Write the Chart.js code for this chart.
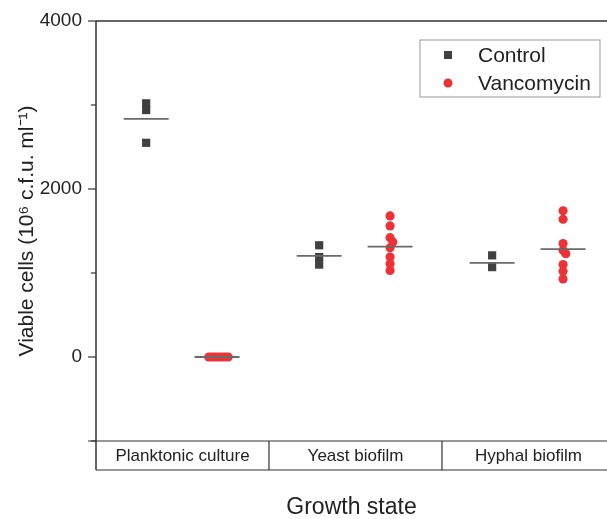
<!DOCTYPE html>
<html>
<head>
<meta charset="utf-8">
<script src="https://cdn.jsdelivr.net/npm/chart.js@4"></script>
<style>
  html, body { margin: 0; padding: 0; background: #fff; overflow: hidden; }
  #wrap { width: 607px; height: 519px; }
</style>
</head>
<body>
<div id="wrap"><canvas id="chart" width="607" height="519"></canvas></div>
<script>
// categories and read-off values (10^6 c.f.u./ml)
const groups = ['Planktonic culture', 'Yeast biofilm', 'Hyphal biofilm'];
const controlVals = [
  [3020, 2940, 2550],
  [1330, 1190, 1100],
  [1210, 1070]
];
const vancVals = [
  [0, 0, 0, 0, 0, 0, 0, 0],
  [1680, 1560, 1420, 1370, 1300, 1190, 1110, 1030],
  [1740, 1640, 1350, 1270, 1230, 1100, 1020, 930]
];
const controlMeans = [2835, 1205, 1120];
const vancMeans = [0, 1315, 1285];
const yTicks = [-1000, 0, 1000, 2000, 3000, 4000];

const FONT = "'Liberation Sans', Arial, sans-serif";
const DARK = '#404040';
const RED = '#ec3237';

// simple beeswarm dodge so close values sit side by side
function swarm(vals, centre) {
  const placed = [];
  return vals.map(v => {
    const near = placed.filter(p => Math.abs(p - v) < 70).length;
    placed.push(v);
    const k = Math.ceil(near / 2);
    const sign = near % 2 ? 1 : -1;
    return {x: centre + sign * k * 0.016, y: v};
  });
}

const ctrlPts = [], vancPts = [];
groups.forEach((g, i) => {
  ctrlPts.push(...swarm(controlVals[i], i + 1 - 0.21));
  vancPts.push(...swarm(vancVals[i], i + 1 + 0.2));
});

const meanSets = [];
groups.forEach((g, i) => {
  [[i + 1 - 0.21, controlMeans[i]], [i + 1 + 0.2, vancMeans[i]]].forEach(([c, m]) => {
    meanSets.push({
      type: 'scatter',
      data: [{x: c - 0.13, y: m}, {x: c + 0.13, y: m}],
      showLine: true,
      borderColor: '#6a6a6a',
      borderWidth: 1.8,
      pointRadius: 0,
      order: 0
    });
  });
});

const decor = {
  id: 'decor',
  afterDraw: (chart) => {
    const {ctx, chartArea: a, scales: {x, y}} = chart;
    ctx.save();
    ctx.strokeStyle = '#333';
    ctx.lineWidth = 1.5;
    // top frame + left axis
    ctx.beginPath();
    ctx.moveTo(a.left, a.top); ctx.lineTo(a.right, a.top);
    ctx.moveTo(a.left, a.top); ctx.lineTo(a.left, a.bottom + 29);
    ctx.stroke();
    // y ticks
    ctx.lineWidth = 1.2;
    y.ticks.forEach(t => {
      const py = y.getPixelForValue(t.value);
      const len = t.value % 2000 === 0 ? 8 : 5;
      ctx.beginPath(); ctx.moveTo(a.left - len, py); ctx.lineTo(a.left, py); ctx.stroke();
    });
    // category box
    const bTop = a.bottom, bBot = a.bottom + 29;
    ctx.beginPath();
    ctx.moveTo(a.left - 8, bTop); ctx.lineTo(a.right, bTop);
    ctx.moveTo(a.left, bBot); ctx.lineTo(a.right, bBot);
    [1.5, 2.5].forEach(v => {
      const px = x.getPixelForValue(v);
      ctx.moveTo(px, bTop); ctx.lineTo(px, bBot);
    });
    ctx.stroke();
    ctx.fillStyle = '#222';
    ctx.font = '17px ' + FONT;
    ctx.textAlign = 'center';
    ctx.textBaseline = 'middle';
    groups.forEach((g, i) => ctx.fillText(g, x.getPixelForValue(i + 1), (bTop + bBot) / 2 + 1));
    // legend
    const lx = 420, ly = 40, lw = 180, lh = 57;
    ctx.strokeStyle = '#999';
    ctx.lineWidth = 1;
    ctx.strokeRect(lx, ly, lw, lh);
    ctx.font = '21px ' + FONT;
    ctx.textAlign = 'left';
    const ds = chart.data.datasets;
    ctx.fillStyle = ds[0].backgroundColor;
    ctx.fillRect(444, 51, 8, 8);
    ctx.fillStyle = ds[1].backgroundColor;
    ctx.beginPath(); ctx.arc(448, 83, 4.5, 0, Math.PI * 2); ctx.fill();
    ctx.fillStyle = '#222';
    ctx.fillText(ds[0].label, 478, 56);
    ctx.fillText(ds[1].label, 478, 84);
    ctx.restore();
  }
};

const config = {
  type: 'scatter',
  data: {
    datasets: [{
      label: 'Control',
      data: ctrlPts,
      pointStyle: 'rect',
      pointRadius: 5.8,
      backgroundColor: DARK,
      borderWidth: 0,
      order: 1
    }, {
      label: 'Vancomycin',
      data: vancPts,
      pointStyle: 'circle',
      pointRadius: 4.6,
      backgroundColor: RED,
      borderWidth: 0,
      order: 1
    }, ...meanSets]
  },
  options: {
    responsive: false,
    animation: false,
    layout: {autoPadding: false, padding: {top: 21, right: 0, left: 0, bottom: 0}},
    plugins: {
      legend: {display: false},
      tooltip: {enabled: false}
    },
    scales: {
      x: {
        type: 'linear',
        min: 0.5,
        max: 3.454,
        grid: {display: false, drawTicks: false},
        border: {display: false},
        ticks: {display: false},
        title: {
          display: true,
          text: 'Growth state',
          color: '#222',
          font: {family: FONT, size: 23, lineHeight: 1},
          padding: {top: 0, bottom: 0}
        },
        afterFit: (s) => { s.height = 78; s.paddingLeft = 0; s.paddingRight = 0; }
      },
      y: {
        min: -1000,
        max: 4000,
        afterBuildTicks: (s) => { s.ticks = yTicks.map(v => ({value: v})); },
        grid: {display: false, drawTicks: false},
        border: {display: false},
        ticks: {
          padding: 14,
          color: '#222',
          font: {family: FONT, size: 19},
          callback: (v) => v % 2000 === 0 ? String(v) : ''
        },
        title: {
          display: true,
          text: 'Viable cells (10\u2076 c.f.u. ml\u207B\u00B9)',
          color: '#222',
          font: {family: FONT, size: 21, lineHeight: 1.2},
          padding: {top: 15, bottom: 0}
        },
        afterFit: (s) => { s.width = 96; s.paddingTop = 0; s.paddingBottom = 0; }
      }
    }
  },
  plugins: [decor]
};

window.onload = function() {
  const ctx = document.getElementById('chart').getContext('2d');
  window.myChart = new Chart(ctx, config);
};
</script>
</body>
</html>
